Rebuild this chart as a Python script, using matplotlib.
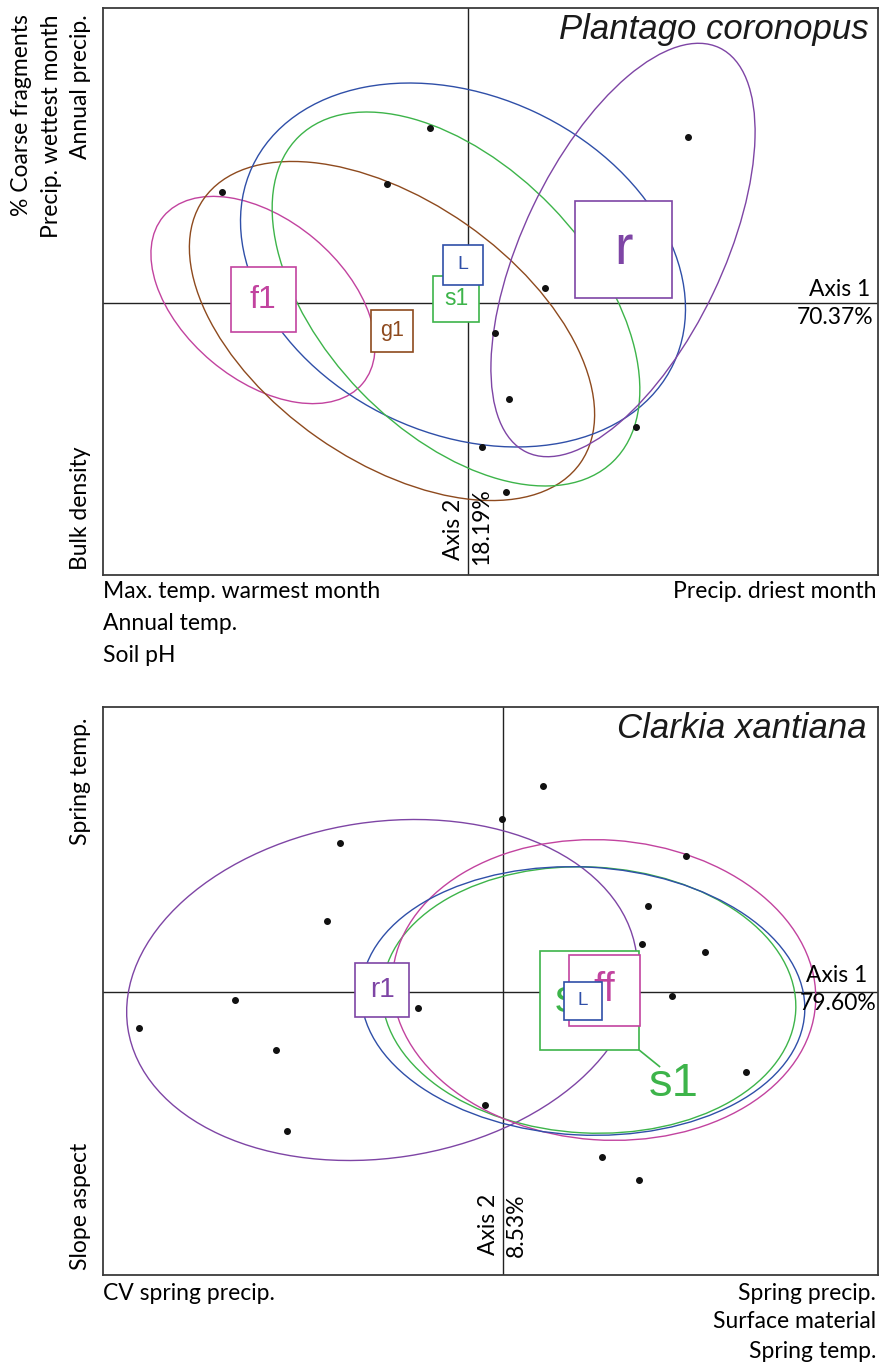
import matplotlib
matplotlib.use("Agg")
import matplotlib.pyplot as plt
from matplotlib.patches import Ellipse, Rectangle
import numpy as np

# ---------------- data: Plantago coronopus ----------------
pc_pts_x = [-2.46, -0.38, -0.81, 2.20, 0.77, 0.27, 0.41, 0.14, 0.38, 1.68]
pc_pts_y = [1.11, 1.75, 1.19, 1.66, 0.15, -0.30, -0.96, -1.44, -1.89, -1.24]
pc_groups = ["f1", "g1", "L", "s1", "r"]
pc_cx = [-2.05, -0.76, -0.05, -0.12, 1.55]
pc_cy = [0.03, -0.28, 0.38, 0.04, 0.53]
pc_w = [2.60, 4.60, 4.65, 4.52, 4.48]
pc_h = [1.60, 2.60, 3.38, 2.66, 2.00]
pc_ang = [-40, -35, -25, -46, 64.5]
pc_axis_pct = ["70.37%", "18.19%"]
pc_left_top = ["% Coarse fragments", "Precip. wettest month", "Annual precip."]
pc_left_bottom = ["Bulk density"]
pc_bottom_left = ["Max. temp. warmest month", "Annual temp.", "Soil pH"]
pc_bottom_right = ["Precip. driest month"]

# ---------------- data: Clarkia xantiana ----------------
cx_pts_x = [0.40, -0.01, -1.63, 1.83, -1.76, 1.45, 1.39, 2.02, -2.68, -0.85,
            1.69, -3.64, -2.27, 2.43, -0.18, -2.16, 0.99, 1.36]
cx_pts_y = [2.06, 1.73, 1.49, 1.36, 0.71, 0.86, 0.48, 0.40, -0.08, -0.16,
            -0.04, -0.36, -0.58, -0.80, -1.13, -1.39, -1.65, -1.88]
cx_groups = ["r1", "s1", "ff", "L"]
cx_cx = [-1.21, 0.86, 1.01, 0.80]
cx_cy = [0.02, -0.08, 0.02, -0.09]
cx_w = [5.14, 4.14, 4.24, 4.44]
cx_h = [3.36, 2.66, 3.00, 2.68]
cx_ang = [8.6, -3, -4, -3]
cx_axis_pct = ["79.60%", "8.53%"]
cx_left_top = ["Spring temp."]
cx_left_bottom = ["Slope aspect"]
cx_bottom_left = ["CV spring precip."]
cx_bottom_right = ["Spring precip.", "Surface material", "Spring temp."]

# ---------------- styles ----------------
COL = {"f1": "#C2439F", "g1": "#8E4A1E", "L": "#2F4FA8", "s1": "#3DB44A",
       "r": "#7E45A5", "r1": "#7E45A5", "ff": "#C2439F"}
pc_box = {"f1": 0.65, "g1": 0.42, "L": 0.40, "s1": 0.46, "r": 0.97}
pc_fs = {"f1": 23, "g1": 15.5, "L": 14, "s1": 16.5, "r": 40}
cx_box = {"r1": 0.54, "s1": 0.99, "ff": 0.71, "L": 0.38}
cx_fs = {"r1": 20, "s1": 34, "ff": 29, "L": 13.5}

LBL = "Lato"
BOXF = "Liberation Sans"
LFS = 16.5

W, H = 880, 1363
fig = plt.figure(figsize=(W / 100, H / 100), dpi=100)


def fx(x):
    return x / W


def fy(y):
    return 1 - y / H


def make_axes(left, top, right, bottom, xlim, ylim):
    ax = fig.add_axes([fx(left), fy(bottom), (right - left) / W, (bottom - top) / H])
    ax.set_xlim(*xlim)
    ax.set_ylim(*ylim)
    ax.set_xticks([])
    ax.set_yticks([])
    for s in ax.spines.values():
        s.set_color("#3a3a3a")
        s.set_linewidth(1.3)
    ax.axhline(0, color="#222222", lw=1.0, zorder=1)
    ax.axvline(0, color="#222222", lw=1.0, zorder=1)
    return ax


def draw_box(ax, x, y, size, label, color, fs, z, text_dx=0.0):
    ax.add_patch(Rectangle((x - size / 2, y - size / 2), size, size,
                           facecolor="white", edgecolor=color, lw=1.2, zorder=z))
    ax.text(x + text_dx, y, label, color=color, fontsize=fs, family=BOXF,
            ha="center", va="center", zorder=z + 0.1)


# ================= top panel =================
ax1 = make_axes(103, 8, 878, 575, (-3.65, 4.10), (-2.72, 2.95))
for g, x, y, w, h, a in zip(pc_groups, pc_cx, pc_cy, pc_w, pc_h, pc_ang):
    ax1.add_patch(Ellipse((x, y), w, h, angle=a, fill=False,
                          edgecolor=COL[g], lw=1.0, zorder=2))
order = ["f1", "g1", "s1", "L", "r"]
for i, g in enumerate(order):
    k = pc_groups.index(g)
    draw_box(ax1, pc_cx[k], pc_cy[k], pc_box[g], g, COL[g], pc_fs[g], 3 + i * 0.2)
ax1.plot(pc_pts_x, pc_pts_y, "o", color="#111111", ms=4, zorder=6)

fig.text(fx(869), fy(30), "Plantago coronopus", fontsize=25, style="italic",
         family=BOXF, ha="right", va="center", color="#1a1a1a")
fig.text(fx(870), fy(290), "Axis 1", fontsize=LFS, family=LBL, ha="right", va="center")
fig.text(fx(873), fy(318), pc_axis_pct[0], fontsize=LFS, family=LBL, ha="right", va="center")
fig.text(fx(453), fy(560), "Axis 2", fontsize=LFS, family=LBL, rotation=90,
         ha="center", va="bottom")
fig.text(fx(482), fy(565), pc_axis_pct[1], fontsize=LFS, family=LBL, rotation=90,
         ha="center", va="bottom")
for xpos, t in zip([22, 51, 80], pc_left_top):
    fig.text(fx(xpos), fy(14), t, fontsize=LFS, family=LBL, rotation=90,
             ha="center", va="top")
fig.text(fx(80), fy(570), pc_left_bottom[0], fontsize=LFS, family=LBL, rotation=90,
         ha="center", va="bottom")
for i, t in enumerate(pc_bottom_left):
    fig.text(fx(103), fy(592 + 32 * i), t, fontsize=LFS, family=LBL,
             ha="left", va="center")
fig.text(fx(876), fy(592), pc_bottom_right[0], fontsize=LFS, family=LBL,
         ha="right", va="center")

# ================= bottom panel =================
ax2 = make_axes(103, 707, 878, 1275, (-4.00, 3.75), (-2.83, 2.85))
for g, x, y, w, h, a in zip(cx_groups, cx_cx, cx_cy, cx_w, cx_h, cx_ang):
    ax2.add_patch(Ellipse((x, y), w, h, angle=a, fill=False,
                          edgecolor=COL[g], lw=1.0, zorder=2))
# boxes
k = cx_groups.index("r1")
draw_box(ax2, cx_cx[k], cx_cy[k], cx_box["r1"], "r1", COL["r1"], cx_fs["r1"], 3)
k = cx_groups.index("s1")
draw_box(ax2, cx_cx[k], cx_cy[k], cx_box["s1"], "s1", COL["s1"], cx_fs["s1"], 3.2,
         text_dx=-0.09)
s1x, s1y, s1b = cx_cx[k], cx_cy[k], cx_box["s1"]
k = cx_groups.index("ff")
draw_box(ax2, cx_cx[k], cx_cy[k], cx_box["ff"], "ff", COL["ff"], cx_fs["ff"], 3.4)
k = cx_groups.index("L")
draw_box(ax2, cx_cx[k], cx_cy[k], cx_box["L"], "L", COL["L"], cx_fs["L"], 3.6)
# displaced s1 label with leader line
ax2.plot([s1x + s1b / 2, s1x + s1b / 2 + 0.21], [s1y - s1b / 2, s1y - s1b / 2 - 0.17],
         color=COL["s1"], lw=1.2, zorder=3)
ax2.text(s1x + s1b / 2 + 0.35, s1y - s1b / 2 - 0.34, "s1", color=COL["s1"],
         fontsize=cx_fs["s1"], family=BOXF, ha="center", va="center", zorder=4)
ax2.plot(cx_pts_x, cx_pts_y, "o", color="#111111", ms=4, zorder=6)

fig.text(fx(867), fy(728), "Clarkia xantiana", fontsize=25, style="italic",
         family=BOXF, ha="right", va="center", color="#1a1a1a")
fig.text(fx(867), fy(975), "Axis 1", fontsize=LFS, family=LBL, ha="right", va="center")
fig.text(fx(876), fy(1003), cx_axis_pct[0], fontsize=LFS, family=LBL, ha="right", va="center")
fig.text(fx(488), fy(1255), "Axis 2", fontsize=LFS, family=LBL, rotation=90,
         ha="center", va="bottom")
fig.text(fx(516), fy(1257), cx_axis_pct[1], fontsize=LFS, family=LBL, rotation=90,
         ha="center", va="bottom")
fig.text(fx(80), fy(718), cx_left_top[0], fontsize=LFS, family=LBL, rotation=90,
         ha="center", va="top")
fig.text(fx(80), fy(1270), cx_left_bottom[0], fontsize=LFS, family=LBL, rotation=90,
         ha="center", va="bottom")
fig.text(fx(103), fy(1293), cx_bottom_left[0], fontsize=LFS, family=LBL,
         ha="left", va="center")
for i, t in enumerate(cx_bottom_right):
    fig.text(fx(876), fy(1293 + 29 * i), t, fontsize=LFS, family=LBL,
             ha="right", va="center")

fig.savefig("out.png", dpi=100)
